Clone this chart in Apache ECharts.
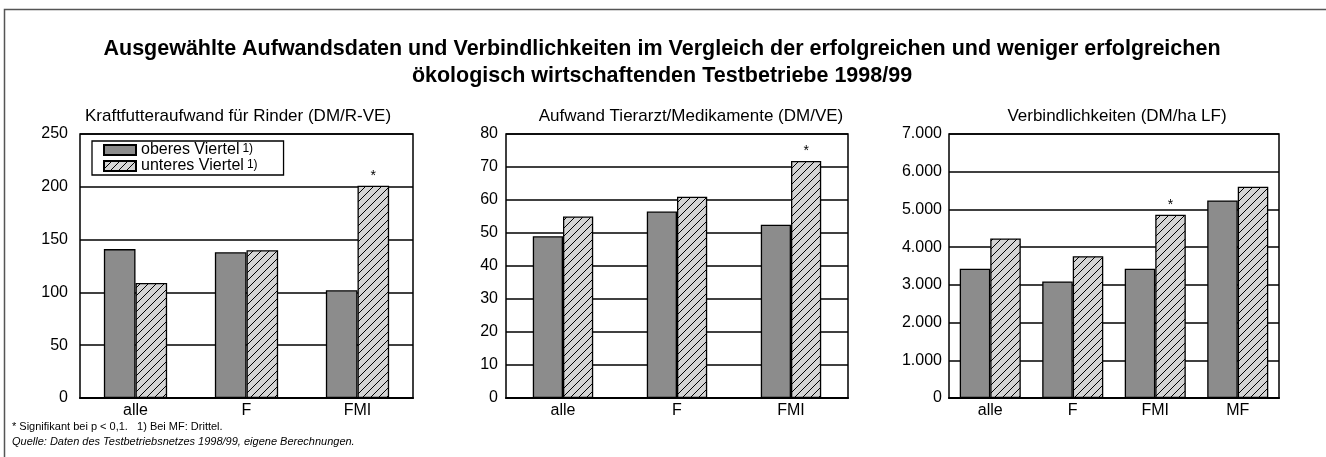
<!DOCTYPE html>
<html>
<head>
<meta charset="utf-8" />
<title>Aufwandsdaten und Verbindlichkeiten</title>
<script type="text/javascript" src="https://cdn.jsdelivr.net/npm/echarts@6/dist/echarts.min.js"></script>
<style>
  html, body { margin: 0; padding: 0; background: #fff; }
  #main { width: 1326px; height: 457px; }
</style>
</head>
<body>
<div id="main"></div>
<script type="text/javascript">
    // Daten
    var cats1 = ['alle', 'F', 'FMI'];
    var ober1 = [141, 138, 102];
    var unter1 = [109, 140, 201];
    var sig1 = [false, false, true];

    var cats2 = ['alle', 'F', 'FMI'];
    var ober2 = [49, 56.5, 52.5];
    var unter2 = [55, 61, 71.8];
    var sig2 = [false, false, true];

    var cats3 = ['alle', 'F', 'FMI', 'MF'];
    var ober3 = [3430, 3090, 3430, 5240];
    var unter3 = [4230, 3760, 4860, 5600];
    var sig3 = [false, false, true, false];

    var FONT = 'Liberation Sans, Arial, sans-serif';

    // Schraffur fuer "unteres Viertel"
    var hatch = document.createElement('canvas');
    hatch.width = 8;
    hatch.height = 8;
    var hc = hatch.getContext('2d');
    hc.fillStyle = '#d4d4d4';
    hc.fillRect(0, 0, 8, 8);
    hc.strokeStyle = '#000';
    hc.lineWidth = 1;
    hc.beginPath();
    hc.moveTo(-1, 9); hc.lineTo(9, -1);
    hc.moveTo(-1, 1); hc.lineTo(1, -1);
    hc.moveTo(7, 9); hc.lineTo(9, 7);
    hc.stroke();

    function withStars(vals, sig) {
        return vals.map(function (v, i) {
            return {
                value: v,
                label: { show: sig[i], formatter: '*', position: 'top', distance: 3,
                         color: '#000', fontSize: 14, fontFamily: FONT }
            };
        });
    }

    function thousands(v) {
        return String(v).replace(/\B(?=(\d{3})+(?!\d))/g, '.');
    }

    var grids = [
        { left: 80, top: 134, width: 333, height: 264 },
        { left: 506, top: 134, width: 342, height: 264 },
        { left: 949, top: 134, width: 330, height: 264 }
    ];
    var gaps = ['43%', '47%', '26%'];
    var allCats = [cats1, cats2, cats3];
    var yMax = [250, 80, 7000];
    var yInt = [50, 10, 1000];
    var yMargin = [12, 8, 7];

    var xAxes = [], yAxes = [];
    for (var i = 0; i < 3; i++) {
        grids[i].show = true;
        grids[i].borderColor = '#000';
        grids[i].borderWidth = 1.5;
        xAxes.push({
            type: 'category', gridIndex: i, data: allCats[i],
            axisLine: { lineStyle: { color: '#000', width: 2 } },
            axisTick: { show: false },
            axisLabel: { color: '#000', fontSize: 16, fontFamily: FONT, margin: 5 }
        });
        yAxes.push({
            type: 'value', gridIndex: i, min: 0, max: yMax[i], interval: yInt[i],
            axisLine: { show: false },
            axisTick: { show: false },
            splitLine: { lineStyle: { color: '#000', width: 1.5 } },
            axisLabel: { color: '#000', fontSize: 16, fontFamily: FONT, margin: yMargin[i],
                         formatter: i === 2 ? thousands : null }
        });
    }

    var obers = [ober1, ober2, ober3];
    var unters = [withStars(unter1, sig1), withStars(unter2, sig2), withStars(unter3, sig3)];
    var series = [];
    for (var k = 0; k < 3; k++) {
        series.push({
            name: 'oberes Viertel', type: 'bar', xAxisIndex: k, yAxisIndex: k,
            data: obers[k], barGap: '0%', barCategoryGap: gaps[k],
            itemStyle: { color: '#8c8c8c', borderColor: '#000', borderWidth: 1.3 }
        });
        series.push({
            name: 'unteres Viertel', type: 'bar', xAxisIndex: k, yAxisIndex: k,
            data: unters[k], barGap: '0%', barCategoryGap: gaps[k],
            itemStyle: { color: { image: hatch, repeat: 'repeat' }, borderColor: '#000', borderWidth: 1.3 }
        });
    }

    var myChart = echarts.init(document.getElementById('main'));
    myChart.setOption({
        animation: false,
        backgroundColor: '#fff',
        title: [
            {
                text: 'Ausgewählte Aufwandsdaten und Verbindlichkeiten im Vergleich der erfolgreichen und weniger erfolgreichen\nökologisch wirtschaftenden Testbetriebe 1998/99',
                left: 657, top: 31, textAlign: 'center',
                textStyle: { fontSize: 21.5, fontWeight: 'bold', fontFamily: FONT, color: '#000', lineHeight: 27 }
            },
            {
                text: 'Kraftfutteraufwand für Rinder (DM/R-VE)', left: 233, top: 103, textAlign: 'center',
                textStyle: { fontSize: 17, fontWeight: 'normal', fontFamily: FONT, color: '#000' }
            },
            {
                text: 'Aufwand Tierarzt/Medikamente (DM/VE)', left: 686, top: 103, textAlign: 'center',
                textStyle: { fontSize: 17, fontWeight: 'normal', fontFamily: FONT, color: '#000' }
            },
            {
                text: 'Verbindlichkeiten (DM/ha LF)', left: 1112, top: 103, textAlign: 'center',
                textStyle: { fontSize: 17, fontWeight: 'normal', fontFamily: FONT, color: '#000' }
            }
        ],
        legend: {
            data: ['oberes Viertel', 'unteres Viertel'],
            orient: 'vertical',
            left: 92, top: 141,
            padding: [1, 26, 1, 11],
            itemGap: 0,
            itemWidth: 32, itemHeight: 10,
            icon: 'rect',
            borderColor: '#000', borderWidth: 1.3,
            backgroundColor: '#fff',
            selectedMode: false,
            formatter: function (name) { return '{n|' + name + '}{s|1)}'; },
            textStyle: {
                color: '#000', fontFamily: FONT, fontSize: 16,
                rich: {
                    n: { fontSize: 16, fontFamily: FONT, color: '#000', lineHeight: 14 },
                    s: { fontSize: 12, fontFamily: FONT, color: '#000', verticalAlign: 'top', lineHeight: 10, padding: [0, 0, 0, 3] }
                }
            }
        },
        grid: grids,
        xAxis: xAxes,
        yAxis: yAxes,
        series: series,
        graphic: [
            {
                type: 'rect', silent: true,
                shape: { x: 4.5, y: 9.5, width: 1340, height: 470 },
                style: { fill: 'none', stroke: '#555', lineWidth: 1.5 }
            },
            {
                type: 'text', left: 12, top: 421,
                style: { text: '* Signifikant bei p < 0,1.   1) Bei MF: Drittel.', fontSize: 11, fontFamily: FONT, fill: '#000' }
            },
            {
                type: 'text', left: 12, top: 436,
                style: { text: 'Quelle: Daten des Testbetriebsnetzes 1998/99, eigene Berechnungen.', fontSize: 11, fontStyle: 'italic', fontFamily: FONT, fill: '#000' }
            }
        ]
    });
</script>
</body>
</html>
